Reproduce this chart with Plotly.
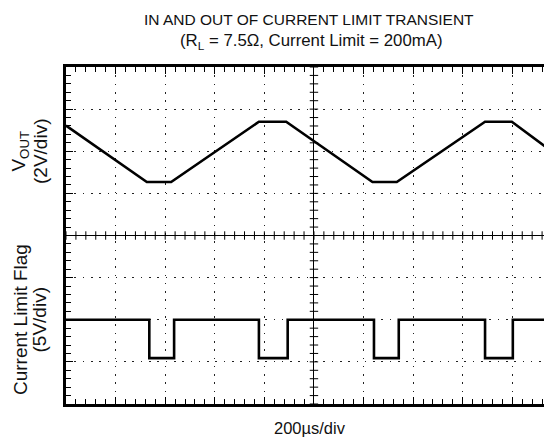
import numpy as np
import plotly.graph_objects as go

# Time axis: microseconds relative to screen centre (200 us/div)
vout_t = [-1000, -674, -576, -222, -112, 236, 334, 690, 798, 960]
# VOUT trace position in screen divisions relative to centre line (2 V/div)
vout_div = [2.61, 1.27, 1.27, 2.70, 2.70, 1.27, 1.27, 2.70, 2.70, 1.99]

flag_t = [-1000, -664, -564, -222, -106, 242, 342, 690, 802, 960]
# Current-limit flag in screen divisions relative to centre line (5 V/div)
flag_div = [-2.0, -2.91, -2.0, -2.91, -2.0, -2.91, -2.0, -2.91, -2.0, -2.0]

title_1 = "IN AND OUT OF CURRENT LIMIT TRANSIENT"
title_2 = "(R<sub>L</sub> = 7.5Ω, Current Limit = 200mA)"
x_label = "200µs/div"

FONT = "Liberation Sans, Arial, sans-serif"
INK = "#000000"

fig = go.Figure()

# centre-line graticule ticks
xt = np.arange(-1000, 961, 40)
yt = np.arange(-4, 4.01, 0.2)
fig.add_trace(go.Scatter(x=xt, y=np.zeros_like(xt), mode="markers",
                         marker=dict(symbol="line-ns", size=6, line=dict(width=1, color=INK)),
                         hoverinfo="skip", showlegend=False))
fig.add_trace(go.Scatter(x=np.zeros_like(yt), y=yt, mode="markers",
                         marker=dict(symbol="line-ew", size=6, line=dict(width=1, color=INK)),
                         hoverinfo="skip", showlegend=False))

fig.add_trace(go.Scatter(x=vout_t, y=vout_div, mode="lines",
                         line=dict(color=INK, width=2.6), showlegend=False))
fig.add_trace(go.Scatter(x=flag_t, y=flag_div, mode="lines", line_shape="hv",
                         line=dict(color=INK, width=2.6), showlegend=False))

DOT = "1.6px,6.7px"
fig.update_xaxes(range=[-1000, 960], tick0=0, dtick=200, showticklabels=False,
                 showgrid=True, gridcolor="#222", gridwidth=1.4, griddash=DOT,
                 zeroline=True, zerolinecolor=INK, zerolinewidth=1,
                 showline=True, linecolor=INK, linewidth=2.6, mirror="ticks",
                 ticks="inside", ticklen=7, tickwidth=1, tickcolor=INK,
                 minor=dict(dtick=40, ticks="inside", ticklen=5, tickwidth=1,
                            tickcolor=INK, showgrid=False))
fig.update_yaxes(range=[-4, 4], tick0=0, dtick=1, showticklabels=False,
                 showgrid=True, gridcolor="#222", gridwidth=1.4, griddash=DOT,
                 zeroline=True, zerolinecolor=INK, zerolinewidth=1,
                 showline=True, linecolor=INK, linewidth=2.6, mirror=False,
                 ticks="inside", ticklen=7, tickwidth=1, tickcolor=INK,
                 minor=dict(dtick=0.2, ticks="inside", ticklen=5, tickwidth=1,
                            tickcolor=INK, showgrid=False))

def ann(text, x, y, size, angle=0):
    fig.add_annotation(text=text, x=x, y=y, xref="paper", yref="paper",
                       xanchor="center", yanchor="middle", showarrow=False,
                       textangle=angle, font=dict(family=FONT, size=size, color="#111"))

ann(title_1, 0.500, 1.142, 15.5)
ann(title_2, 0.506, 1.076, 16.8)
ann(x_label, 0.503, -0.070, 16.5)
ann("V<sub>OUT</sub>", -0.094, 0.75, 19, -90)
ann("(2V/div)", -0.054, 0.75, 19, -90)
ann("Current Limit Flag", -0.094, 0.25, 19, -90)
ann("(5V/div)", -0.054, 0.25, 19, -90)

# page body has an 8px margin: shrink the figure so the plot lands where the scope screen is
fig.update_layout(width=544, height=431, margin=dict(l=58, r=0, t=59, b=35),
                  paper_bgcolor="white", plot_bgcolor="white",
                  font=dict(family=FONT, size=16, color="#111"))

fig.write_html("out.html")
